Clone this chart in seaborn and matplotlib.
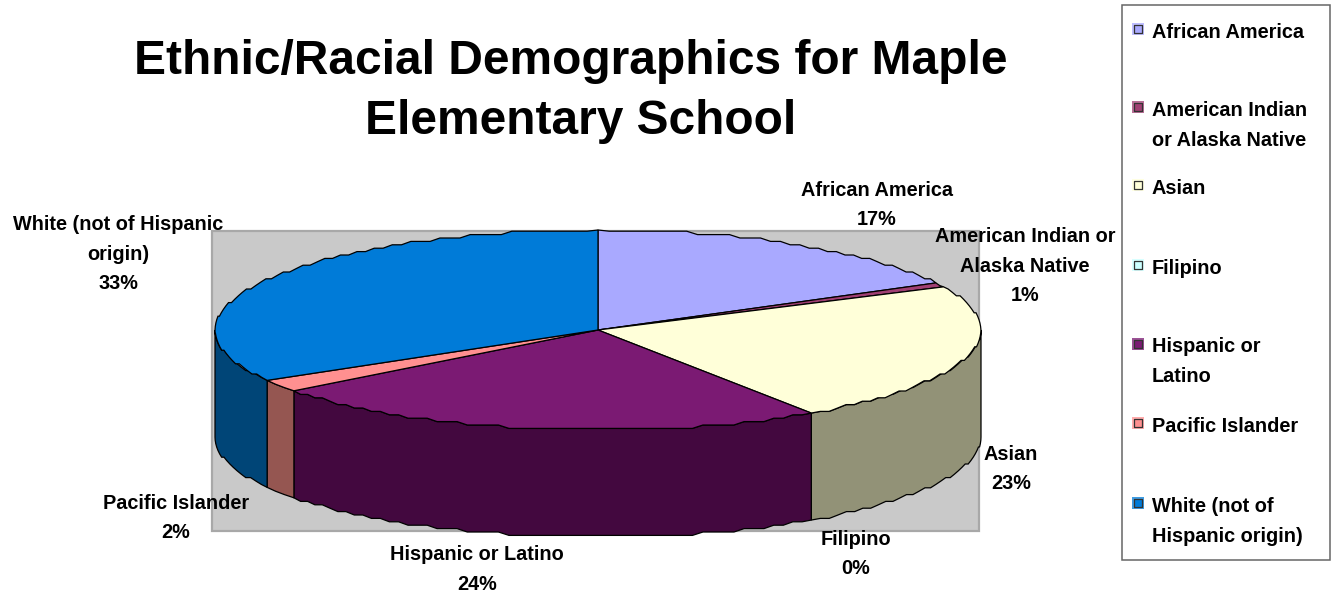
import numpy as np
import matplotlib
matplotlib.use("Agg")
import matplotlib.pyplot as plt
from matplotlib.patches import Polygon, Rectangle
import seaborn as sns

categories = ["African America", "American Indian or Alaska Native", "Asian", "Filipino",
              "Hispanic or Latino", "Pacific Islander", "White (not of Hispanic origin)"]
values = [17.2, 0.7, 22.7, 0.0, 24.0, 2.0, 33.4]
top_hex = ["#A9A9FF", "#A03F73", "#FFFFD9", "#CCFFFF", "#7B1A73", "#FF9090", "#007BD8"]
side_hex = ["#60608F", "#5A2440", "#929277", "#749090", "#43083F", "#955651", "#004577"]
legend_lines = [["African America"], ["American Indian", "or Alaska Native"], ["Asian"], ["Filipino"],
                ["Hispanic or", "Latino"], ["Pacific Islander"], ["White (not of", "Hispanic origin)"]]
label_lines = ["African America", "American Indian or\nAlaska Native", "Asian", "Filipino",
               "Hispanic or Latino", "Pacific Islander", "White (not of Hispanic\norigin)"]
title_lines = ["Ethnic/Racial Demographics for Maple", "Elementary School"]

sns.set_theme(style="white")
plt.rcParams["font.family"] = ["Liberation Sans", "DejaVu Sans"]
top_cols = sns.color_palette(top_hex)
side_cols = sns.color_palette(side_hex)

fig = plt.figure(figsize=(13.33, 5.94), dpi=100, facecolor="white")
ax = fig.add_axes([0, 0, 1, 1])
ax.set_xlim(0, 1333)
ax.set_ylim(594, 0)
ax.axis("off")

# layout of the projected pie
CX, CY, RX, RY, DEPTH = 598, 330, 383, 100, 107
FS = 14.3

def rim(a0, a1):
    """Slightly stepped elliptical rim between two clockwise-from-top angles (degrees)."""
    n = max(3, int(abs(a1 - a0) / 1.6))
    a = np.radians(np.linspace(a0, a1, n))
    x = CX + RX * np.sin(a)
    y = CY - RY * np.cos(a)
    yq = np.round(y / 3.4) * 3.4
    yq[[0, -1]] = y[[0, -1]]
    return np.column_stack([x, yq])

ax.add_patch(Rectangle((212, 231), 767, 300, fc="#C9C9C9", ec="#A8A8A8", lw=1.6, zorder=1))

edges = np.concatenate([[0], np.cumsum(values)]) / np.sum(values) * 360

for i in range(len(values)):
    a0, a1 = max(edges[i], 90), min(edges[i + 1], 270)
    if a1 <= a0:
        continue
    r = rim(a0, a1)
    wall = np.vstack([r, (r + [0, DEPTH])[::-1]])
    ax.add_patch(Polygon(wall, closed=True, fc=side_cols[i], ec="black", lw=0.9, zorder=2))

for i in range(len(values)):
    if values[i] <= 0:
        continue
    r = rim(edges[i], edges[i + 1])
    ax.add_patch(Polygon(np.vstack([[CX, CY], r]), closed=True, fc=top_cols[i], ec="black", lw=0.9, zorder=3))

# title
for line, (x, y) in zip(title_lines, [(571, 61), (581, 122)]):
    ax.text(x, y, line, ha="center", va="center", fontsize=34.5, fontweight="bold",
            color="black", zorder=5)

# data labels
label_pos = [(877, 205), (1025, 266), (1011, 469), (856, 554), (477, 569.5), (176, 518), (118, 254)]
for name, v, (x, y) in zip(label_lines, values, label_pos):
    ax.text(x, y, f"{name}\n{round(v)}%", ha="center", va="center", fontsize=FS, fontweight="bold",
            color="black", linespacing=1.7, zorder=5)

# legend
ax.add_patch(Rectangle((1121.5, 4.5), 208, 555, fc="white", ec="#666666", lw=1.1, zorder=4))
legend_y = [32, 110, 188, 268, 347, 426, 506]
for lines, y, tc in zip(legend_lines, legend_y, top_cols):
    ax.scatter([1138], [y - 3], s=85, marker="s", color=[tc], alpha=0.75, linewidths=0, zorder=5)
    ax.scatter([1138], [y - 3], s=36, marker="s", color=[tc], edgecolors="#333333", linewidths=0.9, zorder=6)
    for j, line in enumerate(lines):
        ax.text(1152, y + j * 30, line, ha="left", va="center", fontsize=FS, fontweight="bold",
                color="black", zorder=6)

fig.savefig("out.png", dpi=100)
